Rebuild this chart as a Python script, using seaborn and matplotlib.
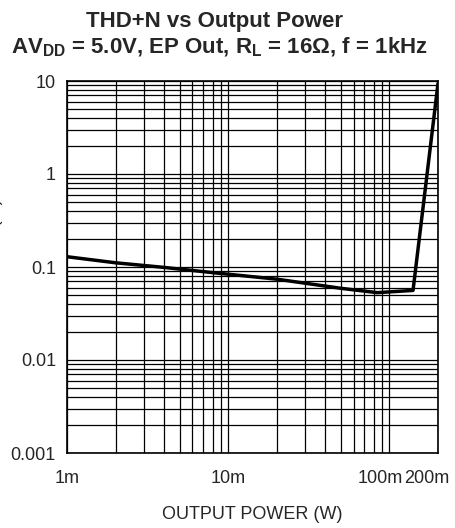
import numpy as np
import matplotlib
matplotlib.use("Agg")
import matplotlib.pyplot as plt
import matplotlib.transforms as mtransforms
import pandas as pd
import seaborn as sns

# THD+N curve
power_w = [0.001, 0.002, 0.004, 0.008, 0.02, 0.05, 0.084, 0.14, 0.2]
thd_pct = [0.129, 0.111, 0.099, 0.087, 0.074, 0.059, 0.053, 0.056, 9.4]

x_ticks = [0.001, 0.01, 0.1, 0.2]
x_labels = ["1m", "10m", "100m", "200m"]
y_ticks = [0.001, 0.01, 0.1, 1, 10]
y_labels = ["0.001", "0.01", "0.1", "1", "10"]

sns.set_theme(style="white")
plt.rcParams['font.family'] = ['Liberation Sans', 'DejaVu Sans']
plt.rcParams['mathtext.fontset'] = 'custom'
plt.rcParams['mathtext.rm'] = 'Liberation Sans:bold'
plt.rcParams['mathtext.bf'] = 'Liberation Sans:bold'
plt.rcParams['mathtext.default'] = 'bf'

df = pd.DataFrame({'power': power_w, 'thd': thd_pct})

fig = plt.figure(figsize=(4.56, 5.28), dpi=100)
ax = fig.add_axes([67/456, 1 - 453/528, (438-67)/456, (453-81)/528])

sns.lineplot(data=df, x='power', y='thd', color='black', linewidth=2.5,
             ax=ax, sort=False)

ax.set_xscale('log')
ax.set_yscale('log')
ax.set_xlim(0.001, 0.2)
ax.set_ylim(0.001, 10)

ax.grid(True, which='both', color='black', linewidth=0.9)
ax.set_axisbelow(True)
for s in ax.spines.values():
    s.set_color('black')
    s.set_linewidth(1.2)

ax.set_xticks(x_ticks)
ax.set_xticklabels(x_labels, fontsize=13)
ax.set_yticks(y_ticks)
ax.set_yticklabels(y_labels, fontsize=13)
ax.xaxis.set_minor_formatter(plt.NullFormatter())
ax.yaxis.set_minor_formatter(plt.NullFormatter())
ax.tick_params(axis='both', which='both', length=0)
ax.tick_params(axis='x', pad=12)
ax.tick_params(axis='y', pad=8)

# nudge crowded labels left like the original
lbls = ax.get_xticklabels()
lbls[2].set_transform(lbls[2].get_transform() + mtransforms.ScaledTranslation(-9/100, 0, fig.dpi_scale_trans))
lbls[3].set_transform(lbls[3].get_transform() + mtransforms.ScaledTranslation(-11/100, 0, fig.dpi_scale_trans))

ax.set_xlabel('OUTPUT POWER (W)', fontsize=13, labelpad=14)
ax.set_ylabel('')
# y label sits mostly off the left edge in the original
fig.text(3/456, 0.536, 'THD+N (%)', rotation=90, ha='right', va='center', fontsize=13)

fig.text(215/456, 1 - 27/528, 'THD+N vs Output Power', ha='center', va='baseline',
         fontsize=16, fontweight='bold')
fig.text(219/456, 1 - 53/528, r'AV$_{DD}$ = 5.0V, EP Out, R$_{L}$ = 16Ω, f = 1kHz',
         ha='center', va='baseline', fontsize=16, fontweight='bold')

fig.savefig('out.png', dpi=100)
